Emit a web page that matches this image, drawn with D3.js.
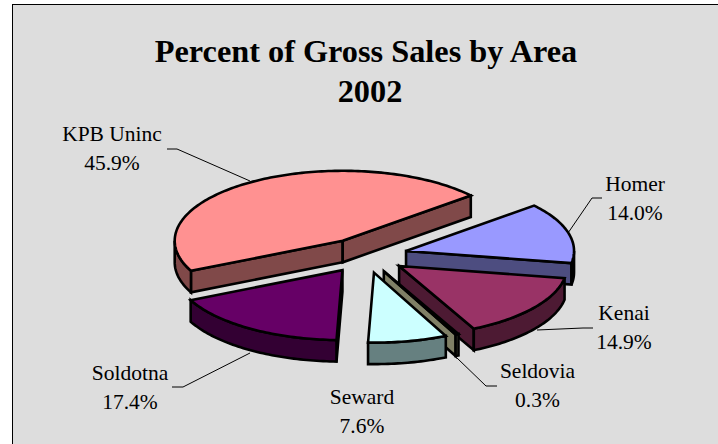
<!DOCTYPE html>
<html>
<head>
<meta charset="utf-8">
<script src="https://cdn.jsdelivr.net/npm/d3@7"></script>
<style>
  html, body { margin: 0; padding: 0; background: #fff; }
  svg { display: block; }
  text { font-family: "Liberation Serif", serif; fill: #000; }
</style>
</head>
<body>
<div id="chart"></div>
<script>
const areas = ["KPB Uninc", "Homer", "Kenai", "Seldovia", "Seward", "Soldotna"];
const percents = [45.9, 14.0, 14.9, 0.3, 7.6, 17.4];
const topColors = ["#FF9191", "#9999FF", "#993366", "#FFFFCC", "#CCFFFF", "#660066"];
const titleLines = ["Percent of Gross Sales by Area", "2002"];

const width = 718;
const height = 444;

// pie tilted: circle squashed to an ellipse, slices pulled out from the middle
const cx = 365.5, cy = 255.5;
const rx = 168, ry = 70;
const depth = 21.5;
const explode = 0.25;
const startDeg = 244.6;

const svg = d3.select("#chart").append("svg")
  .attr("width", width)
  .attr("height", height);

svg.append("rect")
  .attr("x", 12.5).attr("y", 4.5)
  .attr("width", width).attr("height", height)
  .attr("fill", "#DDDDDD")
  .attr("stroke", "#000")
  .attr("stroke-width", 1);

const pie = d3.pie().sort(null)
  .startAngle(startDeg * Math.PI / 180)
  .endAngle((startDeg + 360) * Math.PI / 180);

const slices = pie(percents).map((s, i) => ({ ...s, i }));

function pt(a, r, ox, oy, dz) {
  return [ox + rx * r * Math.sin(a), oy - ry * r * Math.cos(a) + dz];
}

function arcPoints(a0, a1, ox, oy, dz) {
  const n = Math.max(2, Math.ceil(Math.abs(a1 - a0) / 0.02));
  return d3.range(n + 1).map(k => pt(a0 + (a1 - a0) * k / n, 1, ox, oy, dz));
}

const line = d3.line();

function face(points, fill) {
  svg.append("path")
    .attr("d", line(points) + "Z")
    .attr("fill", fill)
    .attr("stroke", "#000")
    .attr("stroke-width", 2.6)
    .attr("stroke-linejoin", "miter");
}

slices.forEach(s => {
  const mid = (s.startAngle + s.endAngle) / 2;
  const ox = cx + rx * explode * Math.sin(mid);
  const oy = cy - ry * explode * Math.cos(mid);
  const top = topColors[s.i];
  const c = d3.rgb(top);
  const sideFill = d3.rgb(c.r / 2, c.g / 2, c.b / 2).formatHex();

  // cut faces, only when they look toward the viewer
  [s.startAngle, s.endAngle].forEach((a, k) => {
    const visible = k === 0 ? Math.sin(a) < 0 : Math.sin(a) > 0;
    if (!visible) return;
    const e = pt(a, 1, ox, oy, 0);
    const e2 = pt(a, 1, ox, oy, depth);
    face([[ox, oy], e, e2, [ox, oy + depth]], sideFill);
  });

  // front part of the rim (angles between 90 and 270 deg, going round)
  for (let turn = 0; turn < 2; turn++) {
    const lo = Math.max(s.startAngle, Math.PI / 2 + turn * 2 * Math.PI);
    const hi = Math.min(s.endAngle, 3 * Math.PI / 2 + turn * 2 * Math.PI);
    if (hi > lo) {
      face(arcPoints(lo, hi, ox, oy, 0).concat(arcPoints(hi, lo, ox, oy, depth)), sideFill);
    }
  }

  face([[ox, oy]].concat(arcPoints(s.startAngle, s.endAngle, ox, oy, 0)), top);
});

// leader lines and labels
const leaders = [
  [[167, 149], [177, 149], [250, 181]],
  [[602, 198], [592, 198], [568, 233]],
  [[593, 328], [583, 328], [537, 330]],
  [[497, 386], [486, 386], [457, 358]],
  null,
  [[172, 387], [183, 387], [250, 353]]
];
const labelPos = [
  [112, 141], [635, 191], [624, 320], [537.5, 378], [362, 404], [130, 380]
];

leaders.forEach(l => {
  if (!l) return;
  svg.append("path")
    .attr("d", line(l))
    .attr("fill", "none")
    .attr("stroke", "#000")
    .attr("stroke-width", 1);
});

areas.forEach((name, i) => {
  const t = svg.append("text")
    .attr("text-anchor", "middle")
    .attr("font-size", 21.5);
  t.append("tspan").attr("x", labelPos[i][0]).attr("y", labelPos[i][1]).text(name);
  t.append("tspan").attr("x", labelPos[i][0]).attr("y", labelPos[i][1] + 29)
    .text(d3.format(".1f")(percents[i]) + "%");
});

const titleX = [366, 370];
titleLines.forEach((s, i) => {
  svg.append("text")
    .attr("x", titleX[i])
    .attr("y", 62 + i * 40)
    .attr("text-anchor", "middle")
    .attr("font-size", 32.3)
    .attr("font-weight", "bold")
    .text(s);
});
</script>
</body>
</html>
